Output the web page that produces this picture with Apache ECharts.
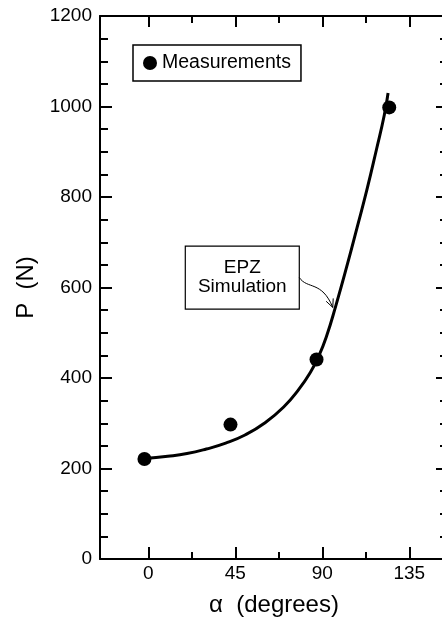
<!DOCTYPE html>
<html><head><meta charset="utf-8">
<script src="https://cdn.jsdelivr.net/npm/echarts@6/dist/echarts.min.js"></script>
<style>html,body{margin:0;padding:0;background:#fff}#c{width:442px;height:618px}</style>
</head><body><div id="c"></div>
<script>
// ---- data ----
const measAlpha = [-2, 42.5, 87, 124.6];
const measP = [221, 297, 441, 998];
const simAlpha = [-2, 10, 20, 30, 40, 50, 60, 70, 78, 84, 88, 92, 97, 103, 108, 113, 118, 122, 124];
const simP = [222, 227, 233, 243, 256, 274, 300, 336, 376, 414, 447, 490, 560, 652, 733, 815, 905, 980, 1030];
const xMajorTicks = [0, 45, 90, 135];
const xMinorTicks = [22.5, 67.5, 112.5];
const yMin = 0, yMax = 1200, yStep = 200;
const xMin = -25, xMax = 155;
const annoCenter = [48.6, 622];   // data coords of the EPZ label box centre
const annoTip = [95.4, 556];      // data coords where arrow points

const FONT = 'Liberation Sans, Arial, Helvetica, sans-serif';
const chart = echarts.init(document.getElementById('c'), null, {renderer: 'canvas'});
function xAx(pos, ticks, len, labels, showLine, name) {
  return {
    type: 'value', position: pos, min: xMin, max: xMax,
    axisLine: {show: showLine, onZero: false, lineStyle: {color: '#000', width: 2}},
    axisTick: {show: true, inside: true, length: len, customValues: ticks, lineStyle: {color: '#000', width: 2}},
    axisLabel: labels ? {show: true, customValues: ticks, color: '#000', fontSize: 19, fontFamily: FONT, margin: 5,
                         formatter: v => String(v)} : {show: false},
    splitLine: {show: false},
    name: name || '', nameLocation: 'middle', nameGap: 34,
    nameTextStyle: {color: '#000', fontSize: 24, fontFamily: FONT}
  };
}
function yAx(pos, labels, name) {
  return {
    type: 'value', position: pos, min: yMin, max: yMax, interval: yStep,
    axisLine: {show: true, onZero: false, lineStyle: {color: '#000', width: 2}},
    axisTick: {show: true, inside: true, length: 12, lineStyle: {color: '#000', width: 2}},
    minorTick: {show: true, splitNumber: 4, length: 8, lineStyle: {color: '#000', width: 2}},
    axisLabel: labels ? {show: true, color: '#000', fontSize: 19, fontFamily: FONT, margin: 8,
                         formatter: v => String(v)} : {show: false},
    splitLine: {show: false}, minorSplitLine: {show: false},
    name: name || '', nameLocation: 'middle', nameGap: 60,
    nameTextStyle: {color: '#000', fontSize: 24, fontFamily: FONT}
  };
}
chart.setOption({
  animation: false,
  backgroundColor: '#fff',
  grid: {left: 100, top: 16, width: 348, height: 543, containLabel: false, outerBoundsMode: 'none'},
  xAxis: [
    xAx('bottom', xMajorTicks, 12, true, true, 'α  (degrees)'),
    xAx('bottom', xMinorTicks, 7, false, false),
    xAx('top', xMajorTicks, 11, false, true),
    xAx('top', xMinorTicks, 7, false, false)
  ],
  yAxis: [yAx('left', true, 'P  (N)'), yAx('right', false)],
  legend: {
    data: ['Measurements'], left: 133, top: 45, orient: 'horizontal',
    icon: 'circle', itemWidth: 14, itemHeight: 14,
    borderColor: '#000', borderWidth: 1.5, borderRadius: 0,
    padding: [8, 10, 8, 10],
    textStyle: {color: '#000', fontSize: 19.5, fontFamily: FONT}
  },
  series: [
    {
      name: 'EPZ Simulation', type: 'line', xAxisIndex: 0, yAxisIndex: 0,
      data: simAlpha.map((a, i) => [a, simP[i]]),
      smooth: 0.5, showSymbol: false, symbol: 'none',
      lineStyle: {color: '#000', width: 3}, z: 2
    },
    {
      name: 'Measurements', type: 'scatter', xAxisIndex: 0, yAxisIndex: 0,
      data: measAlpha.map((a, i) => [a, measP[i]]),
      symbol: 'circle', symbolSize: 14, itemStyle: {color: '#000', opacity: 1}, z: 3
    }
  ]
});

// annotation (label box + arrow) placed via axis scales
const c = chart.convertToPixel({xAxisIndex: 0, yAxisIndex: 0}, annoCenter);
const tip = chart.convertToPixel({xAxisIndex: 0, yAxisIndex: 0}, annoTip);
const bw = 114, bh = 63;
const sx = c[0] + bw / 2, sy = c[1];
const cp1 = [sx + 8, sy + 12], cp2 = [tip[0] - 11, tip[1] - 27];
let dx = tip[0] - cp2[0], dy = tip[1] - cp2[1];
const dl = Math.hypot(dx, dy); dx /= dl; dy /= dl;
const hl = 9, ang = 25 * Math.PI / 180;
function rot(x, y, a) { return [x * Math.cos(a) - y * Math.sin(a), x * Math.sin(a) + y * Math.cos(a)]; }
const h1 = rot(dx, dy, ang), h2 = rot(dx, dy, -ang);
chart.setOption({
  graphic: [
    {type: 'rect', shape: {x: c[0] - bw / 2, y: c[1] - bh / 2, width: bw, height: bh},
     style: {fill: '#fff', stroke: '#000', lineWidth: 1.2}, z: 10},
    {type: 'text', x: c[0], y: c[1],
     style: {text: 'EPZ\nSimulation', fill: '#000', font: '19px ' + FONT,
             align: 'center', verticalAlign: 'middle', lineHeight: 19}, z: 11},
    {type: 'bezierCurve', shape: {x1: sx, y1: sy, cpx1: cp1[0], cpy1: cp1[1], cpx2: cp2[0], cpy2: cp2[1], x2: tip[0], y2: tip[1]},
     style: {stroke: '#000', lineWidth: 1, fill: null}, z: 10},
    {type: 'polyline', shape: {points: [[tip[0] - h1[0] * hl, tip[1] - h1[1] * hl], tip, [tip[0] - h2[0] * hl, tip[1] - h2[1] * hl]]},
     style: {stroke: '#000', lineWidth: 1, fill: null}, z: 10}
  ]
});
</script></body></html>
